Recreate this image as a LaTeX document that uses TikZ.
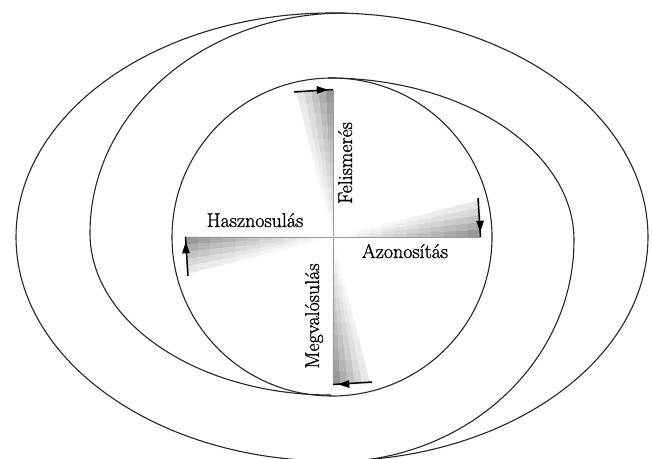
\documentclass[tikz,border=0pt]{standalone}
\usepackage{fontspec}
\newfontfamily\lblfont{Latin Modern Roman}[RawFeature={embolden=1.2}]
\usetikzlibrary{arrows.meta}
\begin{document}
\begin{tikzpicture}[x=1pt,y=1pt,
  curve/.style={line width=1.1pt, draw=black!85},
  lbl/.style={font=\lblfont\fontsize{20}{24}\selectfont, inner sep=0pt, text=black},
  arrowbar/.style={line width=1.5pt, draw=black}]
\useasboundingbox (0,0) rectangle (652,458);
\fill[white] (0,0) rectangle (652,458);

% shaded fans with arrows
\foreach \ang in {90,0,180,270}{
  \begin{scope}[shift={(333,221)}, rotate=\ang]
    \foreach \i/\a in {0/42,1/33,2/25,3/17,4/10}{
      \foreach \j in {0,...,11}{
        \pgfmathsetmacro{\ta}{\j/12}
        \pgfmathsetmacro{\tb}{(\j+1)/12}
        \pgfmathsetmacro{\cc}{\a*(\j+0.5)/12}
        \fill[black!\cc, draw=black!\cc, line width=0.2pt]
          (\ta*147, \ta*\i*7.4) -- (\tb*147, \tb*\i*7.4)
          -- (\tb*147, \tb*\i*7.4+\tb*7.4) -- (\ta*147, \ta*\i*7.4+\ta*7.4) -- cycle;
      }
    }
    \draw[black!40, line width=0.6pt] (0,0) -- (147,0);
    \draw[arrowbar] (145,39) -- (147.5,0);
    \fill[black] (147.2,5) -- (143.2,16) -- (151,16.5) -- cycle;
  \end{scope}
}

% spiral curves
\draw[curve] (332,221) ellipse [x radius=160, y radius=159];
\draw[curve] (332,221) ellipse [x radius=316, y radius=224];
\draw[curve] (345,445) arc[start angle=90, end angle=180, x radius=255, y radius=220]
  arc[start angle=180, end angle=270, x radius=241, y radius=162];
\draw[curve] (328,380) arc[start angle=90, end angle=0, x radius=246, y radius=162]
  arc[start angle=0, end angle=-90, x radius=242, y radius=222];

% labels
\node[lbl, anchor=base] (hasz) at (255,231) {Hasznosulás};
\node[lbl, anchor=base] (azon) at (405,200) {Azonosítás};
\node[lbl, rotate=90, anchor=base] (feli) at (352,295) {Felismerés};
\node[lbl, rotate=90, anchor=base] (megv) at (319,142) {Megvalósulás};
\end{tikzpicture}
\end{document}
